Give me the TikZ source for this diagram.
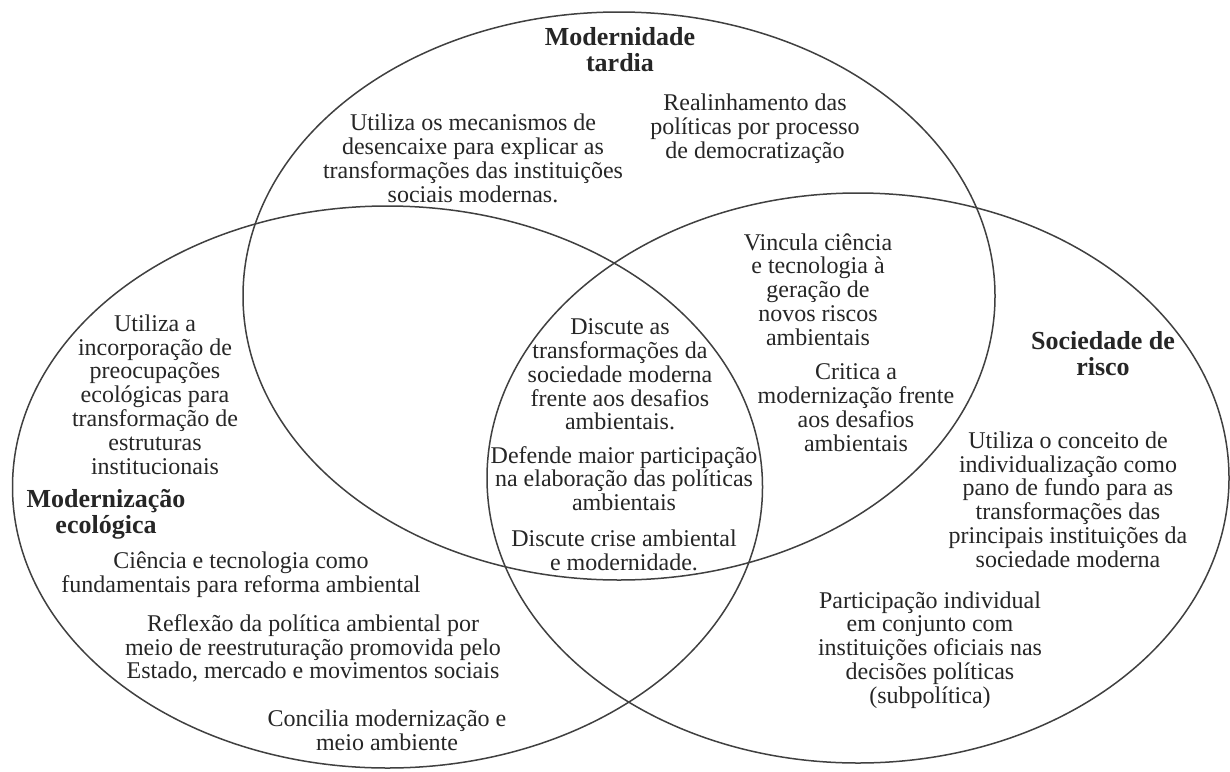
\documentclass[tikz,border=0pt]{standalone}
\usepackage{fontspec}
\setmainfont{Liberation Serif}
\begin{document}
\begin{tikzpicture}[x=1pt, y=-1pt,
  conjunto/.style={draw=black!75, line width=1.5pt},
  texto/.style={align=center, inner sep=0pt, text=black!85, font=\fontsize{24}{23.8}\selectfont},
  titulo/.style={align=center, inner sep=0pt, text=black!85, font=\fontsize{26}{26}\selectfont\bfseries}]
\useasboundingbox (0,0) rectangle (1230,771);
\fill [white] (0,0) rectangle (1230,771);
% Conjuntos
\draw [conjunto] (619,296) ellipse [x radius=376, y radius=284];
\draw [conjunto] (387.5,487) ellipse [x radius=375, y radius=281];
\draw [conjunto] (858,478) ellipse [x radius=371, y radius=285];
% Titulos
\node [titulo] (tardia) at (620,50) {Modernidade\\tardia};
\node [titulo] (risco) at (1103,354) {Sociedade de\\risco};
\node [titulo] (ecologica) at (106,514) {Modernização\\ecológica};
% Modernidade tardia
\node [texto] (mecanismos) at (473,158.5) {Utiliza os mecanismos de\\desencaixe para explicar as\\transformações das instituições\\sociais modernas.};
\node [texto] (realinhamento) at (755,128.5) {Realinhamento das\\políticas por processo\\de democratização};
% Intersecoes
\node [texto] (vincula) at (818,289.5) {Vincula ciência\\e tecnologia à\\geração de\\novos riscos\\ambientais};
\node [texto] (critica) at (856,407.5) {Critica a\\modernização frente\\aos desafios\\ambientais};
\node [texto] (discute) at (620,374.5) {Discute as\\transformações da\\sociedade moderna\\frente aos desafios\\ambientais.};
\node [texto] (defende) at (624,478.5) {Defende maior participação\\na elaboração das políticas\\ambientais};
\node [texto] (crise) at (624,550) {Discute crise ambiental\\e modernidade.};
% Modernizacao ecologica
\node [texto] (incorporacao) at (155,394.5) {Utiliza a\\incorporação de\\preocupações\\ecológicas para\\transformação de\\estruturas\\institucionais};
\node [texto] (ciencia) at (241,575) {Ciência e tecnologia como\\fundamentais para reforma ambiental};
\node [texto] (reflexao) at (313,648.5) {Reflexão da política ambiental por\\meio de reestruturação promovida pelo\\Estado, mercado e movimentos sociais};
\node [texto] (concilia) at (387,730) {Concilia modernização e\\meio ambiente};
% Sociedade de risco
\node [texto] (individualizacao) at (1068,499.5) {Utiliza o conceito de\\individualização como\\pano de fundo para as\\transformações das\\principais instituições da\\sociedade moderna};
\node [texto] (participacao) at (930,650) {Participação individual\\em conjunto com\\instituições oficiais nas\\decisões políticas\\(subpolítica)};
\end{tikzpicture}
\end{document}
